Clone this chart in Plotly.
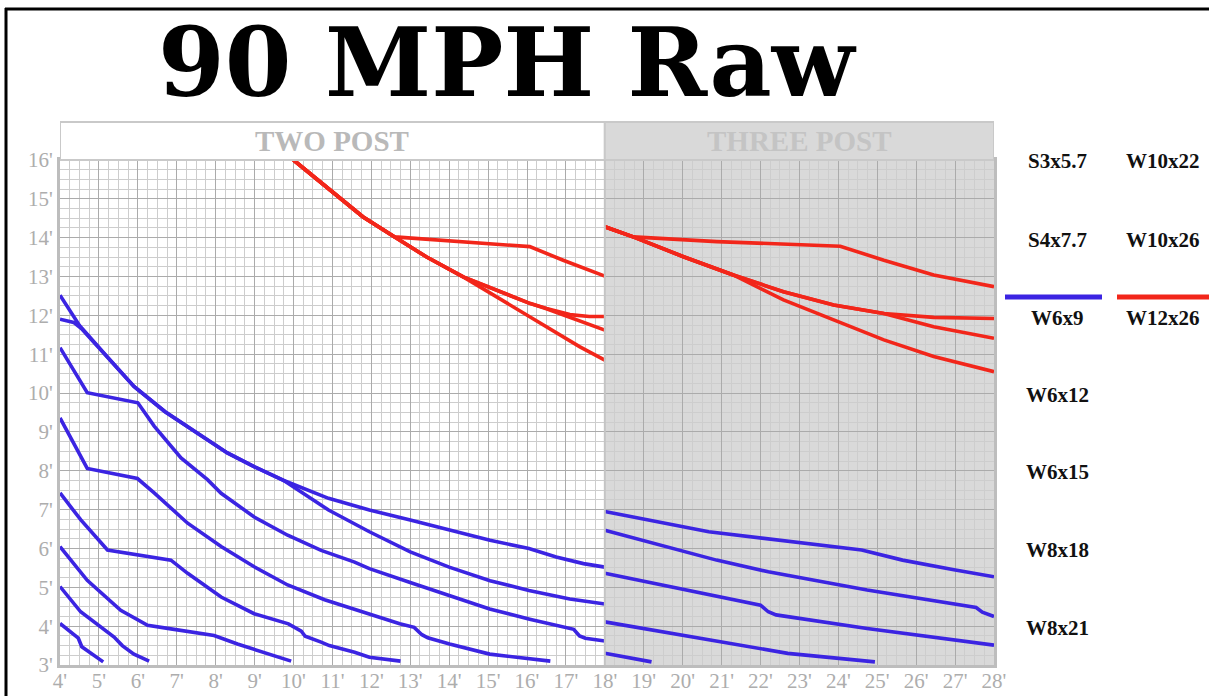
import plotly.graph_objects as go

# ---------------- data ----------------
x_ticks = list(range(4, 29))
x_tick_labels = [f"{v}'" for v in x_ticks]
y_ticks = list(range(3, 17))
y_tick_labels = [f"{v}'" for v in y_ticks]

section_names = ["TWO POST", "THREE POST"]
legend_col1 = ["S3x5.7", "S4x7.7", "W6x9", "W6x12", "W6x15", "W8x18", "W8x21"]
legend_col2 = ["W10x22", "W10x26", "W12x26"]

# two post - blue
tp_b1_x = [4, 4.5, 5.2, 5.9, 6.7, 7.45, 8.3, 9.0, 9.75, 10.9, 11.95, 13.0, 14.0, 15.05, 16.05, 16.75, 17.45, 18]
tp_b1_y = [12.52, 11.74, 10.95, 10.17, 9.52, 9.01, 8.46, 8.1, 7.75, 7.29, 6.99, 6.73, 6.47, 6.21, 6.0, 5.78, 5.61, 5.52]
tp_b2_x = [4, 4.35, 4.55, 5.2, 5.9, 6.7, 7.45, 8.3, 9.0, 9.75, 10.9, 11.95, 13.0, 14.0, 15.05, 16.05, 17.1, 18]
tp_b2_y = [11.9, 11.82, 11.66, 10.95, 10.17, 9.52, 9.01, 8.46, 8.1, 7.75, 6.99, 6.43, 5.91, 5.52, 5.17, 4.92, 4.7, 4.57]
tp_b3_x = [4, 4.7, 6.0, 6.42, 7.11, 7.79, 8.14, 8.99, 9.85, 10.71, 11.57, 11.95, 12.98, 14.01, 15.04, 16.07, 17.1, 17.2, 17.35, 17.5, 18]
tp_b3_y = [11.17, 10.01, 9.75, 9.15, 8.33, 7.77, 7.42, 6.81, 6.34, 5.95, 5.65, 5.48, 5.13, 4.79, 4.44, 4.18, 3.96, 3.92, 3.75, 3.69, 3.62]
tp_b4_x = [4, 4.7, 5.99, 6.42, 7.28, 8.14, 8.99, 9.85, 10.8, 11.6, 11.95, 12.73, 13.1, 13.3, 13.45, 14.01, 15.04, 16.6]
tp_b4_y = [9.36, 8.06, 7.8, 7.43, 6.65, 6.05, 5.53, 5.06, 4.68, 4.42, 4.32, 4.06, 3.97, 3.78, 3.7, 3.54, 3.28, 3.1]
tp_b5_x = [4, 4.53, 5.22, 5.99, 6.85, 7.28, 8.14, 8.99, 9.87, 10.2, 10.3, 10.71, 10.92, 11.57, 11.95, 12.75]
tp_b5_y = [7.43, 6.74, 5.96, 5.83, 5.7, 5.36, 4.75, 4.32, 4.06, 3.87, 3.74, 3.59, 3.5, 3.33, 3.2, 3.1]
tp_b6_x = [4, 4.7, 5.56, 6.25, 6.85, 7.96, 8.56, 9.94]
tp_b6_y = [6.05, 5.18, 4.41, 4.02, 3.93, 3.76, 3.54, 3.1]
tp_b7_x = [4, 4.53, 5.39, 5.5, 5.6, 5.9, 6.29]
tp_b7_y = [5.02, 4.37, 3.72, 3.6, 3.5, 3.28, 3.1]
tp_b8_x = [4, 4.47, 4.56, 5.11]
tp_b8_y = [4.07, 3.69, 3.47, 3.08]

# two post - red
tp_r1_x = [10.0, 10.92, 11.78, 12.6, 16.07, 16.93, 18]
tp_r1_y = [16.0, 15.23, 14.54, 14.02, 13.77, 13.42, 13.01]
tp_r2_x = [10.0, 10.92, 11.78, 12.6, 13.41, 14.36, 14.79, 16.07, 16.5, 17.1, 17.6, 18]
tp_r2_y = [16.0, 15.23, 14.54, 14.02, 13.51, 12.99, 12.82, 12.31, 12.18, 12.02, 11.97, 11.97]
tp_r3_x = [10.0, 10.92, 11.78, 12.6, 13.41, 14.36, 14.79, 16.07, 16.5, 17.37, 18]
tp_r3_y = [16.0, 15.23, 14.54, 14.02, 13.51, 12.99, 12.82, 12.31, 12.17, 11.84, 11.62]
tp_r4_x = [10.0, 10.92, 11.78, 12.6, 13.41, 14.36, 15.64, 17.36, 18]
tp_r4_y = [16.0, 15.23, 14.54, 14.02, 13.51, 12.99, 12.22, 11.19, 10.85]

# three post - blue
th_b1_x = [18, 20.67, 24.6, 25.65, 26.97, 28]
th_b1_y = [6.95, 6.43, 5.96, 5.7, 5.45, 5.27]
th_b2_x = [18, 20.87, 22.2, 24.74, 27.54, 27.7, 28]
th_b2_y = [6.47, 5.7, 5.4, 4.93, 4.48, 4.36, 4.25]
th_b3_x = [18, 22.0, 22.2, 22.4, 24.74, 28]
th_b3_y = [5.36, 4.54, 4.37, 4.29, 3.94, 3.51]
th_b4_x = [18, 20.67, 22.7, 24.94]
th_b4_y = [4.11, 3.64, 3.3, 3.08]
th_b5_x = [18, 19.2]
th_b5_y = [3.3, 3.08]

# three post - red
th_r1_x = [18, 18.73, 20.88, 24.05, 25.17, 26.45, 28]
th_r1_y = [14.28, 14.02, 13.9, 13.78, 13.42, 13.04, 12.74]
th_r2_x = [18, 18.73, 20.02, 21.3, 22.59, 23.88, 25.17, 26.45, 28]
th_r2_y = [14.28, 14.02, 13.51, 13.04, 12.61, 12.27, 12.05, 11.95, 11.92]
th_r3_x = [18, 18.73, 20.02, 21.3, 22.59, 23.88, 25.17, 26.45, 28]
th_r3_y = [14.28, 14.02, 13.51, 13.04, 12.61, 12.27, 12.05, 11.71, 11.41]
th_r4_x = [18, 18.73, 20.02, 21.3, 22.59, 23.88, 25.17, 26.45, 28]
th_r4_y = [14.28, 14.02, 13.51, 13.04, 12.4, 11.88, 11.37, 10.94, 10.55]

# ---------------- style ----------------
BLUE = "#3b24e2"
RED = "#f2261a"
LW = 3.6
W, H = 1209, 696
ML, MR, MT, MB = 60, 215, 160, 31
PW = W - ML - MR
PH = H - MT - MB


def px_to_paper_x(px):
    return (px - ML) / PW


def px_to_paper_y(py):
    return (H - MB - py) / PH


fig = go.Figure()

blue_curves = [
    (tp_b1_x, tp_b1_y), (tp_b2_x, tp_b2_y), (tp_b3_x, tp_b3_y), (tp_b4_x, tp_b4_y),
    (tp_b5_x, tp_b5_y), (tp_b6_x, tp_b6_y), (tp_b7_x, tp_b7_y), (tp_b8_x, tp_b8_y),
    (th_b1_x, th_b1_y), (th_b2_x, th_b2_y), (th_b3_x, th_b3_y), (th_b4_x, th_b4_y),
    (th_b5_x, th_b5_y),
]
red_curves = [
    (tp_r1_x, tp_r1_y), (tp_r2_x, tp_r2_y), (tp_r3_x, tp_r3_y), (tp_r4_x, tp_r4_y),
    (th_r1_x, th_r1_y), (th_r2_x, th_r2_y), (th_r3_x, th_r3_y), (th_r4_x, th_r4_y),
]
for xs, ys in blue_curves:
    fig.add_trace(go.Scatter(x=xs, y=ys, mode="lines", line=dict(color=BLUE, width=LW),
                             showlegend=False, hoverinfo="skip"))
for xs, ys in red_curves:
    fig.add_trace(go.Scatter(x=xs, y=ys, mode="lines", line=dict(color=RED, width=LW),
                             showlegend=False, hoverinfo="skip"))

shapes = []
# three post grey background
shapes.append(dict(type="rect", xref="x", yref="y", x0=18, x1=28, y0=3, y1=16,
                   fillcolor="#d9d9d9", line=dict(width=0), layer="below"))
# header bands
band_top = px_to_paper_y(122)
shapes.append(dict(type="rect", xref="x", yref="paper", x0=4, x1=18, y0=1.0, y1=band_top,
                   fillcolor="white", line=dict(color="#c9c9c9", width=2)))
shapes.append(dict(type="rect", xref="x", yref="paper", x0=18, x1=28, y0=1.0, y1=band_top,
                   fillcolor="#d9d9d9", line=dict(color="#c9c9c9", width=2)))
# divider
shapes.append(dict(type="line", xref="x", yref="y", x0=18, x1=18, y0=3, y1=16,
                   line=dict(color="#c4c4c4", width=2)))
# outer black frame
shapes.append(dict(type="line", xref="paper", yref="paper",
                   x0=px_to_paper_x(5), x1=px_to_paper_x(W), y0=px_to_paper_y(9), y1=px_to_paper_y(9),
                   line=dict(color="black", width=3)))
shapes.append(dict(type="line", xref="paper", yref="paper",
                   x0=px_to_paper_x(6), x1=px_to_paper_x(6), y0=px_to_paper_y(8), y1=px_to_paper_y(H),
                   line=dict(color="black", width=3)))
# legend swatches
sw_y = px_to_paper_y(297)
shapes.append(dict(type="line", xref="paper", yref="paper",
                   x0=px_to_paper_x(1005), x1=px_to_paper_x(1102), y0=sw_y, y1=sw_y,
                   line=dict(color=BLUE, width=5)))
shapes.append(dict(type="line", xref="paper", yref="paper",
                   x0=px_to_paper_x(1117), x1=px_to_paper_x(W), y0=sw_y, y1=sw_y,
                   line=dict(color=RED, width=5)))

annotations = []
annotations.append(dict(text="<b>90 MPH Raw</b>", xref="paper", yref="paper",
                        x=px_to_paper_x(507), y=px_to_paper_y(62), xanchor="center", yanchor="middle",
                        showarrow=False, font=dict(family="DejaVu Serif", size=96, color="black")))
annotations.append(dict(text="<b>" + section_names[0] + "</b>", xref="x", yref="paper", x=11,
                        y=px_to_paper_y(141), xanchor="center", yanchor="middle", showarrow=False,
                        font=dict(family="Liberation Serif", size=29, color="#b9b9b9")))
annotations.append(dict(text="<b>" + section_names[1] + "</b>", xref="x", yref="paper", x=23,
                        y=px_to_paper_y(141), xanchor="center", yanchor="middle", showarrow=False,
                        font=dict(family="Liberation Serif", size=29, color="#c4c4c4")))

col1_y = [161, 240, 318, 395, 472, 550, 628]
col2_y = [161, 240, 318]
for lab, py in zip(legend_col1, col1_y):
    annotations.append(dict(text="<b>" + lab + "</b>", xref="paper", yref="paper",
                            x=px_to_paper_x(1057), y=px_to_paper_y(py), xanchor="center", yanchor="middle",
                            showarrow=False, font=dict(family="Liberation Serif", size=21, color="#111111")))
for lab, py in zip(legend_col2, col2_y):
    annotations.append(dict(text="<b>" + lab + "</b>", xref="paper", yref="paper",
                            x=px_to_paper_x(1163), y=px_to_paper_y(py), xanchor="center", yanchor="middle",
                            showarrow=False, font=dict(family="Liberation Serif", size=21, color="#111111")))

tickfont = dict(family="Liberation Serif", size=21, color="#adadad")
axis_common = dict(showgrid=True, gridcolor="#ababab", gridwidth=1.3, zeroline=False,
                   showline=True, linecolor="#bdbdbd", linewidth=3, mirror=True,
                   ticks="", tickfont=tickfont, fixedrange=True, automargin=False)

fig.update_layout(
    width=W, height=H,
    margin=dict(l=ML, r=MR, t=MT, b=MB, pad=0, autoexpand=False),
    paper_bgcolor="white", plot_bgcolor="white",
    xaxis=dict(range=[4, 28], tickmode="array", tickvals=x_ticks, ticktext=x_tick_labels,
               ticklabelstandoff=-5,
               minor=dict(dtick=0.25, tick0=4, showgrid=True, gridcolor="#cdcdcd", gridwidth=1),
               **axis_common),
    yaxis=dict(range=[3, 16], tickmode="array", tickvals=y_ticks, ticktext=y_tick_labels,
               minor=dict(dtick=0.25, tick0=3, showgrid=True, gridcolor="#cdcdcd", gridwidth=1),
               **axis_common),
    shapes=shapes, annotations=annotations, showlegend=False,
)

fig.write_html("out.html", config={"displayModeBar": False},
               post_script="document.body.style.margin='0';document.body.style.overflow='hidden';")
